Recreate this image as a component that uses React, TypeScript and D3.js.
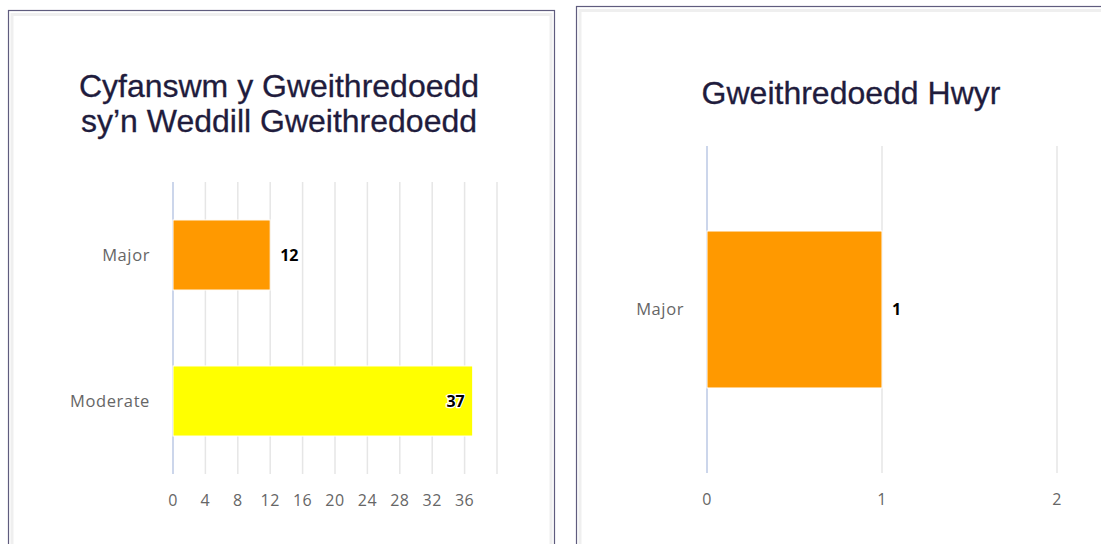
import React from "react";
import { scaleBand, scaleLinear } from "d3";

const W = 1101, H = 544;

// left chart
const leftTitle = ["Cyfanswm y Gweithredoedd", "sy’n Weddill Gweithredoedd"];
const leftCategories = ["Major", "Moderate"];
const leftValues = [12, 37];
const leftColors = ["#ff9900", "#ffff00"];
const leftTicks = [0, 4, 8, 12, 16, 20, 24, 28, 32, 36, 40];
const leftTickLabels = ["0", "4", "8", "12", "16", "20", "24", "28", "32", "36", ""];

// right chart
const rightTitle = ["Gweithredoedd Hwyr"];
const rightCategories = ["Major"];
const rightValues = [1];
const rightColors = ["#ff9900"];
const rightTicks = [0, 1, 2];
const rightTickLabels = ["0", "1", "2"];

const titleFont = "'Liberation Sans', Arial, sans-serif";
const labelFont = "'Open Sans', 'DejaVu Sans', sans-serif";

type ChartProps = {
  title: string[];
  titleX: number;
  titleY: number;
  categories: string[];
  values: number[];
  colors: string[];
  ticks: number[];
  tickLabels: string[];
  left: number;
  right: number;
  top: number;
  bottom: number;
};

const HBar = ({ title, titleX, titleY, categories, values, colors, ticks, tickLabels, left, right, top, bottom }: ChartProps) => {
  const x = scaleLinear().domain([ticks[0], ticks[ticks.length - 1]]).range([left, right]);
  const y = scaleBand<string>().domain(categories).range([top, bottom]);
  const bw = y.bandwidth();
  const barH = bw * 0.48;

  return (
    <g>
      {title.map((t, i) => (
        <text key={i} x={titleX} y={titleY + i * 35} textAnchor="middle"
          fontFamily={titleFont} fontSize={32} fill="#1f1c3d" stroke="#1f1c3d" strokeWidth={0.3}>{t}</text>
      ))}
      {ticks.map((t, i) => (
        <line key={"g" + i} x1={x(t)} x2={x(t)} y1={top} y2={bottom}
          stroke={i === 0 ? "#ccd6eb" : "#e6e6e6"} strokeWidth={i === 0 ? 2 : 1.5} />
      ))}
      {ticks.map((t, i) => (
        <text key={"t" + i} x={x(t)} y={bottom + 32} textAnchor="middle"
          fontFamily={labelFont} fontSize={16} fill="#666666" letterSpacing={0.5}>{tickLabels[i]}</text>
      ))}
      {categories.map((c, i) => {
        const yc = (y(c) ?? 0) + bw / 2;
        const v = values[i];
        const xe = x(v);
        const inside = xe + 30 > right;
        return (
          <g key={c}>
            <text x={left - 23} y={yc} dy="0.35em" textAnchor="end"
              fontFamily={labelFont} fontSize={16.5} fill="#666666" letterSpacing={0.6}>{c}</text>
            <rect x={x(0)} y={yc - barH / 2} width={xe - x(0)} height={barH}
              fill={colors[i]} stroke="#ffffff" strokeWidth={1} />
            <text x={inside ? xe - 8 : xe + 10} y={yc} dy="0.35em" textAnchor={inside ? "end" : "start"}
              fontFamily={labelFont} fontSize={16} fontWeight="bold" fill="#000000"
              stroke="#ffffff" strokeWidth={2.5} paintOrder="stroke" strokeLinejoin="round">{v}</text>
          </g>
        );
      })}
    </g>
  );
};

const Panel = ({ x0, y0, w, h }: { x0: number; y0: number; w: number; h: number }) => (
  <g>
    <rect x={x0} y={y0} width={w} height={h} fill="#ffffff" stroke="#5f5c7e" strokeWidth={1.2} />
    <rect x={x0 + 3.5} y={y0 + 4} width={w - 7} height={h} fill="none" stroke="#efefef" strokeWidth={3} />
  </g>
);

export default function App() {
  return (
    <div style={{ position: "absolute", left: 0, top: 0, width: W, height: H, background: "#fff" }}>
      <svg width={W} height={H} style={{ display: "block" }}>
        <rect width={W} height={H} fill="#ffffff" />
        <Panel x0={8.5} y0={10.5} w={546} h={560} />
        <Panel x0={576.5} y0={6.5} w={560} h={560} />
        <HBar title={leftTitle} titleX={279} titleY={97} categories={leftCategories} values={leftValues}
          colors={leftColors} ticks={leftTicks} tickLabels={leftTickLabels}
          left={173} right={497} top={182} bottom={474} />
        <HBar title={rightTitle} titleX={851} titleY={104} categories={rightCategories} values={rightValues}
          colors={rightColors} ticks={rightTicks} tickLabels={rightTickLabels}
          left={707} right={1057} top={146} bottom={473} />
      </svg>
    </div>
  );
}
